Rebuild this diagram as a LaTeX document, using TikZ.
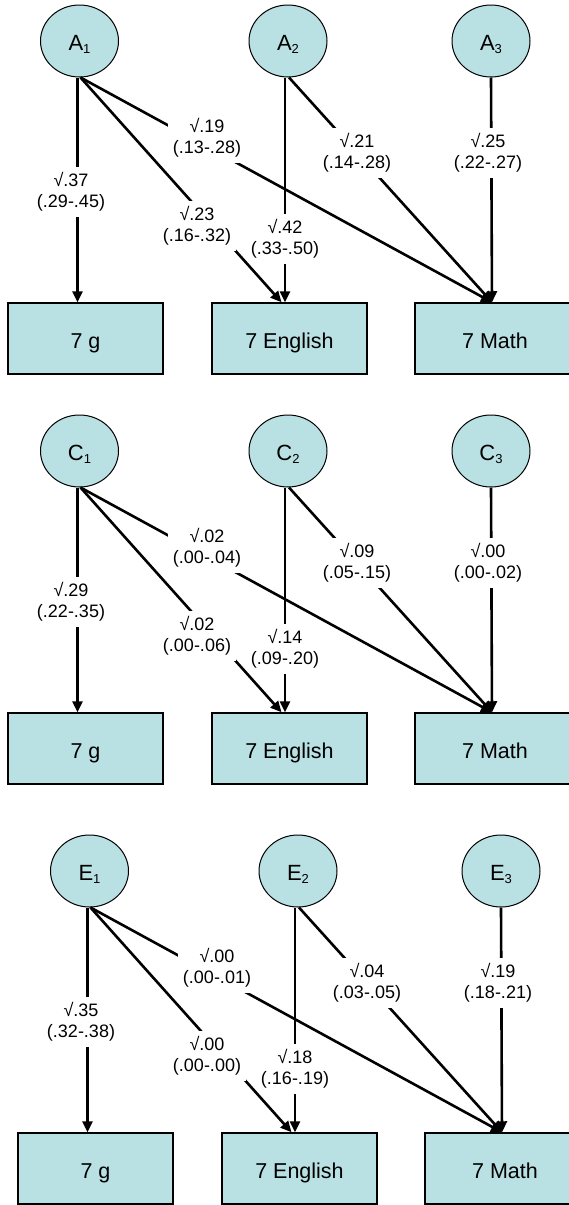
\documentclass[tikz,border=0pt]{standalone}
\usepackage{fontspec}
\setmainfont{Liberation Sans}
\usetikzlibrary{arrows.meta,shapes.geometric}
\definecolor{tealfill}{RGB}{185,224,227}
\newcommand{\lsub}[1]{\raisebox{-3pt}{\fontsize{13}{13}\selectfont #1}}
\tikzset{
 latent/.style={ellipse, draw=black, line width=1pt, fill=tealfill, minimum width=78pt, minimum height=72pt, inner sep=0pt, text height=18pt, text depth=0pt, font=\fontsize{22}{24}\selectfont},
 obs/.style={rectangle, draw=black, line width=1.5pt, fill=tealfill, minimum width=155pt, minimum height=71pt, inner sep=0pt, text height=19pt, text depth=0pt, font=\fontsize{21.5}{24}\selectfont},
 mathbox/.style={obs, minimum width=160pt},
 arr/.style={line width=2.6pt, -{Triangle[length=11pt,width=10pt]}},
 lbl/.style={fill=white, inner xsep=5pt, inner ysep=6pt, align=center, font=\fontsize{18}{21}\selectfont},
}
\newcommand{\drawpanel}[9]{%
\begin{scope}[shift={(#1,#2)}]
\node[latent] (#3-1) at (79.5,41) {#3\lsub{1}};
\node[latent] (#3-2) at (288,41) {#3\lsub{2}};
\node[latent] (#3-3) at (491,41) {#3\lsub{3}};
\node[obs] (#3-g) at (85.5,338.5) {7 g};
\node[obs] (#3-e) at (289.5,338.5) {7 English};
\node[mathbox] (#3-m) at (495,338.5) {7 Math};
\draw[arr] ([xshift=-2pt]#3-1.south) -- ([xshift=-2pt]#3-1.south |- #3-g.north);
\draw[arr] ([xshift=1pt]#3-1.south) -- ([xshift=-3pt]#3-m.north);
\draw[arr] ([xshift=-3pt]#3-2.south) -- ([xshift=-3pt]#3-2.south |- #3-e.north);
\draw[arr] ([xshift=1pt]#3-2.south) -- ([xshift=-3pt]#3-m.north);
\draw[arr] (#3-3.south) -- ([xshift=-3pt]#3-m.north);
\node[lbl] (#3-lg) at (71,192) {#4};
\node[lbl] (#3-l1m) at (207,138) {#5};
\node[lbl] (#3-l2e) at (285,239) {#7};
\node[lbl] (#3-l2m) at (357,153) {#8};
\node[lbl] (#3-l3m) at (488,153) {#9};
\draw[arr] ([xshift=1pt]#3-1.south) -- ([xshift=-8pt]#3-e.north);
\node[lbl] (#3-l1e) at (197,226) {#6};
\end{scope}}
\begin{document}
\begin{tikzpicture}[x=1pt,y=-1pt]
\useasboundingbox (0,0) rectangle (569,1205);
\fill[white] (0,0) rectangle (569,1205);
\drawpanel{0}{0}{A}{√.37\\(.29-.45)}{√.19\\(.13-.28)}{√.23\\(.16-.32)}{√.42\\(.33-.50)}{√.21\\(.14-.28)}{√.25\\(.22-.27)}
\drawpanel{0}{410}{C}{√.29\\(.22-.35)}{√.02\\(.00-.04)}{√.02\\(.00-.06)}{√.14\\(.09-.20)}{√.09\\(.05-.15)}{√.00\\(.00-.02)}
\drawpanel{10}{830}{E}{√.35\\(.32-.38)}{√.00\\(.00-.01)}{√.00\\(.00-.00)}{√.18\\(.16-.19)}{√.04\\(.03-.05)}{√.19\\(.18-.21)}
\end{tikzpicture}
\end{document}
